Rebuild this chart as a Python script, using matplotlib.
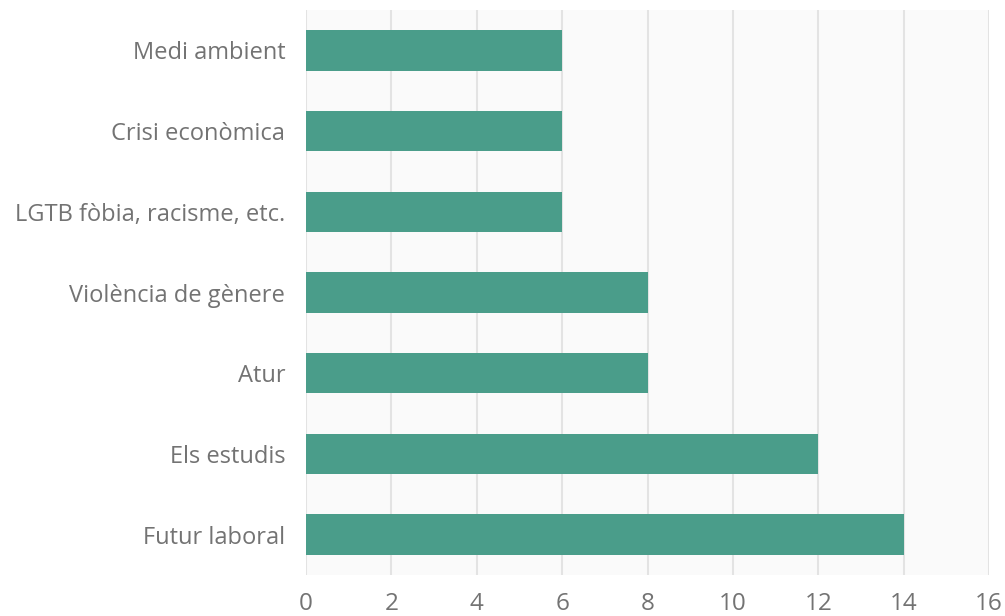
import matplotlib
matplotlib.use("Agg")
import matplotlib.pyplot as plt

categories = ["Futur laboral", "Els estudis", "Atur", "Violència de gènere",
              "LGTB fòbia, racisme, etc.", "Crisi econòmica", "Medi ambient"]
values = [14, 12, 8, 8, 6, 6, 6]
xticks = [0, 2, 4, 6, 8, 10, 12, 14, 16]

plt.rcParams['font.family'] = ['Open Sans', 'DejaVu Sans']

W, H = 1005, 616
fig = plt.figure(figsize=(W / 100, H / 100), dpi=100)
ax = fig.add_axes([306 / W, 1 - 575 / H, (989 - 306) / W, (575 - 10) / H])
ax.set_facecolor('#fafafa')

ypos = list(range(len(categories)))
ax.barh(ypos, values, height=0.5, color='#4a9d8a', zorder=3)
ax.set_xlim(0, 16)
ax.set_ylim(-0.5, len(categories) - 0.5)
ax.set_xticks(xticks)
ax.set_xticklabels([str(t) for t in xticks])
ax.set_yticks(ypos)
ax.set_yticklabels(categories)
ax.grid(axis='x', color='#e3e3e3', linewidth=1.5, zorder=0)
for s in ax.spines.values():
    s.set_visible(False)
ax.tick_params(axis='both', length=0, colors='#737373')
ax.tick_params(axis='x', labelsize=17.5, pad=12)
ax.tick_params(axis='y', labelsize=17, pad=15)

fig.savefig("out.png", dpi=100)
